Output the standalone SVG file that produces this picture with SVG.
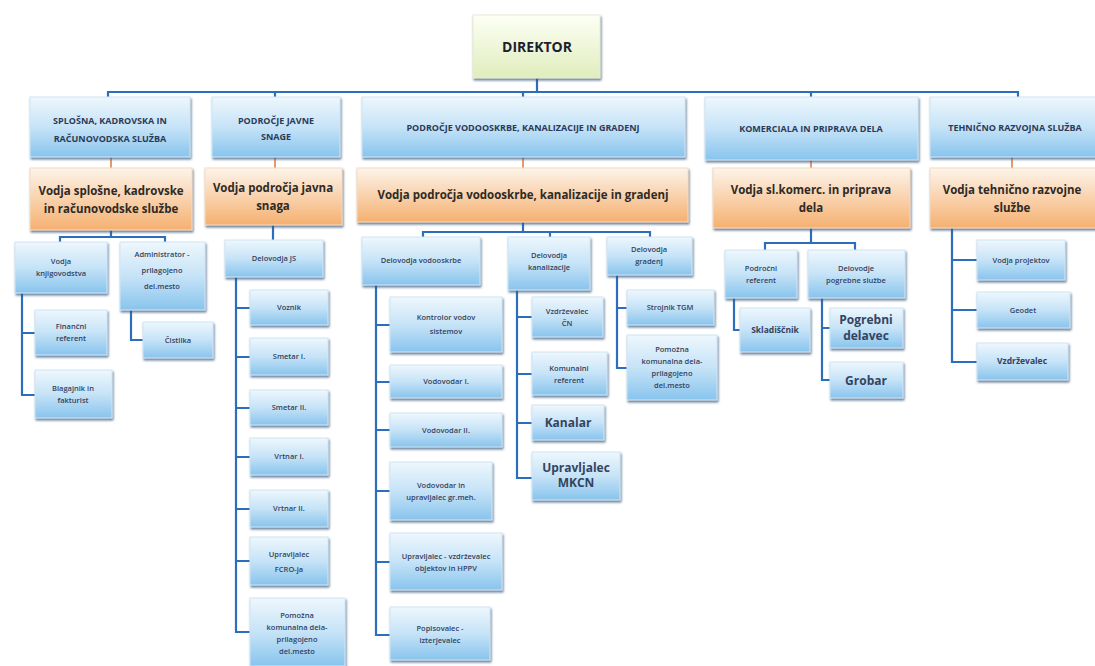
<svg xmlns="http://www.w3.org/2000/svg" width="1095" height="666" viewBox="0 0 1095 666">
<defs>
<linearGradient id="gb" x1="0" y1="0" x2="0" y2="1"><stop offset="0" stop-color="#eef7fd"/><stop offset="0.5" stop-color="#c6e3f7"/><stop offset="1" stop-color="#88c4ed"/></linearGradient>
<linearGradient id="go" x1="0" y1="0" x2="0" y2="1"><stop offset="0" stop-color="#fdf4ea"/><stop offset="1" stop-color="#f5b070"/></linearGradient>
<linearGradient id="gd" x1="0" y1="0" x2="0" y2="1"><stop offset="0" stop-color="#fdfff5"/><stop offset="1" stop-color="#e0edbd"/></linearGradient>
<filter id="sh" x="-5%" y="-5%" width="115%" height="130%"><feDropShadow dx="1" dy="2" stdDeviation="1" flood-color="#34577f" flood-opacity="0.75"/></filter>
</defs>
<style>
.b{fill:url(#gb);stroke:#cfe6f6;stroke-width:1;filter:url(#sh)}
.o{fill:url(#go);stroke:#f6dcc0;stroke-width:1;filter:url(#sh)}
.d{fill:url(#gd);stroke:#e4ecd6;stroke-width:1;filter:url(#sh)}
text{font-family:"Open Sans","Liberation Sans",sans-serif;text-anchor:middle;fill:#33425e}
.t1{font-size:9px;font-weight:700;fill:#2c3a58}
.t2{font-size:11.5px;font-weight:700;fill:#2e2a26}
.t3{font-size:7.5px;font-weight:600}
.t4{font-size:12px;font-weight:700;fill:#34445f}
.c{fill:none;stroke:#2a6ebd;stroke-width:2.2}
.co{fill:none;stroke:#e9996a;stroke-width:2}
</style>
<g id="connectors">
<path class="c" d="M537 78V92M108 97V92H1018V97M275 92V97M523 92V97M811 92V97"/>
<path class="co" d="M111 157V168M275 157V168M523 157V168M811 160V168M1012 157V168"/>
<path class="c" d="M111 230V237M60 242V237H165V242M22 293V395H35M22 333H35M131 310V340H143"/>
<path class="c" d="M273 225V240M236 277V632H250M236 308H250M236 357H250M236 408H250M236 457H250M236 509H250M236 561H250"/>
<path class="c" d="M523 222V232M423 237V232H650V237M550 232V237M376 285V635H390M376 325H390M376 382H390M376 430H390M376 491H390M376 562H390"/>
<path class="c" d="M517 290V478H532M517 317H532M517 374H532M517 423H532M617 275V368H627M617 308H627"/>
<path class="c" d="M811 228V243M765 250V243H855V250M734 298V330H740M822 298V380H830M822 328H830"/>
<path class="c" d="M952 228V362H977M952 260H977M952 310H977"/>
</g>
<g id="n-direktor"><rect class="d" x="473" y="15" width="127" height="63"/><text x="537" y="52" style="font-size:14px;font-weight:700;fill:#1d2030">DIREKTOR</text></g>
<g id="n-splosna"><rect class="b" x="30" y="97" width="160" height="60"/><text class="t1" x="110" y="124">SPLOŠNA, KADROVSKA IN</text><text class="t1" x="110" y="142">RAČUNOVODSKA SLUŽBA</text></g>
<g id="n-javne"><rect class="b" x="212" y="97" width="128" height="60"/><text class="t1" x="276" y="124">PODROČJE JAVNE</text><text class="t1" x="276" y="140">SNAGE</text></g>
<g id="n-vodooskrbe"><rect class="b" x="362" y="97" width="323" height="60"/><text class="t1" x="523" y="131">PODROČJE VODOOSKRBE,   KANALIZACIJE IN GRADENJ</text></g>
<g id="n-komerciala"><rect class="b" x="705" y="97" width="213" height="63"/><text class="t1" x="811" y="132">KOMERCIALA IN PRIPRAVA DELA</text></g>
<g id="n-tehnicno"><rect class="b" x="930" y="97" width="170" height="60"/><text class="t1" x="1015" y="131">TEHNIČNO RAZVOJNA SLUŽBA</text></g>
<g id="n-vodja-splosne"><rect class="o" x="30" y="168" width="162" height="62"/><text class="t2" x="111" y="195">Vodja splošne,  kadrovske</text><text class="t2" x="111" y="213">in računovodske službe</text></g>
<g id="n-vodja-javna"><rect class="o" x="205" y="168" width="137" height="57"/><text class="t2" x="273" y="192">Vodja področja javna</text><text class="t2" x="273" y="210">snaga</text></g>
<g id="n-vodja-vodooskrbe"><rect class="o" x="357" y="168" width="331" height="54"/><text class="t2" x="523" y="199">Vodja področja vodooskrbe, kanalizacije in gradenj</text></g>
<g id="n-vodja-komerc"><rect class="o" x="713" y="168" width="197" height="60"/><text class="t2" x="811" y="194">Vodja sl.komerc. in priprava</text><text class="t2" x="811" y="212">dela</text></g>
<g id="n-vodja-tehnicno"><rect class="o" x="930" y="168" width="170" height="60"/><text class="t2" x="1012" y="194">Vodja tehnično razvojne</text><text class="t2" x="1012" y="212">službe</text></g>
<g id="n-knjigovodstva"><rect class="b" x="15" y="242" width="92" height="51"/><text class="t3" x="61" y="264">Vodja</text><text class="t3" x="61" y="276">knjigovodstva</text></g>
<g id="n-administrator"><rect class="b" x="120" y="242" width="85" height="68"/><text class="t3" x="162" y="257">Administrator -</text><text class="t3" x="162" y="273">prilagojeno</text><text class="t3" x="162" y="289">del.mesto</text></g>
<g id="n-financni"><rect class="b" x="35" y="310" width="72" height="45"/><text class="t3" x="71" y="329">Finančni</text><text class="t3" x="71" y="341">referent</text></g>
<g id="n-blagajnik"><rect class="b" x="35" y="370" width="77" height="48"/><text class="t3" x="73" y="391">Blagajnik in</text><text class="t3" x="73" y="403">fakturist</text></g>
<g id="n-cistilka"><rect class="b" x="143" y="322" width="70" height="36"/><text class="t3" x="178" y="343">Čistilka</text></g>
<g id="n-delovodja-js"><rect class="b" x="225" y="240" width="98" height="37"/><text class="t3" x="274" y="261">Delovodja JS</text></g>
<g id="n-voznik"><rect class="b" x="250" y="290" width="78" height="35"/><text class="t3" x="289" y="310">Voznik</text></g>
<g id="n-smetar1"><rect class="b" x="250" y="338" width="78" height="37"/><text class="t3" x="289" y="359">Smetar I.</text></g>
<g id="n-smetar2"><rect class="b" x="250" y="390" width="78" height="35"/><text class="t3" x="289" y="410">Smetar II.</text></g>
<g id="n-vrtnar1"><rect class="b" x="250" y="438" width="78" height="37"/><text class="t3" x="289" y="459">Vrtnar I.</text></g>
<g id="n-vrtnar2"><rect class="b" x="250" y="490" width="78" height="37"/><text class="t3" x="289" y="511">Vrtnar II.</text></g>
<g id="n-fcro"><rect class="b" x="250" y="537" width="78" height="48"/><text class="t3" x="289" y="557">Upravljalec</text><text class="t3" x="289" y="572">FCRO-ja</text></g>
<g id="n-pomozna-js"><rect class="b" x="250" y="598" width="95" height="68"/><text class="t3" x="297" y="618">Pomožna</text><text class="t3" x="297" y="630">komunalna dela-</text><text class="t3" x="297" y="642">prilagojeno</text><text class="t3" x="297" y="654">del.mesto</text></g>
<g id="n-delovodja-vod"><rect class="b" x="362" y="237" width="118" height="48"/><text class="t3" x="421" y="263">Delovodja vodooskrbe</text></g>
<g id="n-delovodja-kan"><rect class="b" x="508" y="237" width="82" height="53"/><text class="t3" x="549" y="258">Delovodja</text><text class="t3" x="549" y="270">kanalizacije</text></g>
<g id="n-delovodja-gra"><rect class="b" x="607" y="237" width="85" height="38"/><text class="t3" x="649" y="252">Delovodja</text><text class="t3" x="649" y="264">gradenj</text></g>
<g id="n-kontrolor"><rect class="b" x="390" y="297" width="112" height="55"/><text class="t3" x="446" y="320">Kontrolor vodov</text><text class="t3" x="446" y="334">sistemov</text></g>
<g id="n-vodovodar1"><rect class="b" x="390" y="365" width="112" height="33"/><text class="t3" x="446" y="384">Vodovodar I.</text></g>
<g id="n-vodovodar2"><rect class="b" x="390" y="413" width="112" height="34"/><text class="t3" x="446" y="433">Vodovodar II.</text></g>
<g id="n-vodovodar-gr"><rect class="b" x="390" y="462" width="102" height="58"/><text class="t3" x="441" y="488">Vodovodar in</text><text class="t3" x="441" y="500">upravljalec gr.meh.</text></g>
<g id="n-hppv"><rect class="b" x="390" y="533" width="112" height="57"/><text class="t3" x="446" y="559">Upravljalec - vzdrževalec</text><text class="t3" x="446" y="571">objektov in HPPV</text></g>
<g id="n-popisovalec"><rect class="b" x="390" y="607" width="100" height="53"/><text class="t3" x="440" y="631">Popisovalec -</text><text class="t3" x="440" y="643">izterjevalec</text></g>
<g id="n-vzdrzevalec-cn"><rect class="b" x="532" y="297" width="71" height="40"/><text class="t3" x="567" y="314">Vzdrževalec</text><text class="t3" x="567" y="326">ČN</text></g>
<g id="n-komunalni"><rect class="b" x="532" y="352" width="75" height="43"/><text class="t3" x="569" y="371">Komunalni</text><text class="t3" x="569" y="383">referent</text></g>
<g id="n-kanalar"><rect class="b" x="532" y="405" width="72" height="35"/><text class="t4" x="568" y="427">Kanalar</text></g>
<g id="n-mkcn"><rect class="b" x="532" y="452" width="88" height="48"/><text class="t4" x="576" y="472">Upravljalec</text><text class="t4" x="576" y="487">MKCN</text></g>
<g id="n-strojnik"><rect class="b" x="627" y="290" width="87" height="35"/><text class="t3" x="670" y="310">Strojnik TGM</text></g>
<g id="n-pomozna-gra"><rect class="b" x="627" y="335" width="90" height="65"/><text class="t3" x="672" y="352">Pomožna</text><text class="t3" x="672" y="364">komunalna dela-</text><text class="t3" x="672" y="376">prilagojeno</text><text class="t3" x="672" y="388">del.mesto</text></g>
<g id="n-podrocni"><rect class="b" x="725" y="250" width="72" height="48"/><text class="t3" x="761" y="271">Področni</text><text class="t3" x="761" y="283">referent</text></g>
<g id="n-pogrebne"><rect class="b" x="808" y="250" width="97" height="48"/><text class="t3" x="856" y="271">Delovodje</text><text class="t3" x="856" y="283">pogrebne službe</text></g>
<g id="n-skladiscnik"><rect class="b" x="740" y="308" width="70" height="44"/><text class="t3" x="775" y="333" style="font-size:8.5px;font-weight:700">Skladiščnik</text></g>
<g id="n-pogrebni"><rect class="b" x="830" y="308" width="73" height="40"/><text class="t4" x="866" y="324">Pogrebni</text><text class="t4" x="866" y="340">delavec</text></g>
<g id="n-grobar"><rect class="b" x="830" y="362" width="73" height="36"/><text class="t4" x="866" y="385">Grobar</text></g>
<g id="n-projektov"><rect class="b" x="977" y="240" width="88" height="40"/><text class="t3" x="1021" y="263">Vodja projektov</text></g>
<g id="n-geodet"><rect class="b" x="977" y="292" width="93" height="36"/><text class="t3" x="1023" y="313">Geodet</text></g>
<g id="n-vzdrzevalec"><rect class="b" x="977" y="343" width="91" height="37"/><text class="t3" x="1022" y="364" style="font-size:8.5px;font-weight:700">Vzdrževalec</text></g>
</svg>
